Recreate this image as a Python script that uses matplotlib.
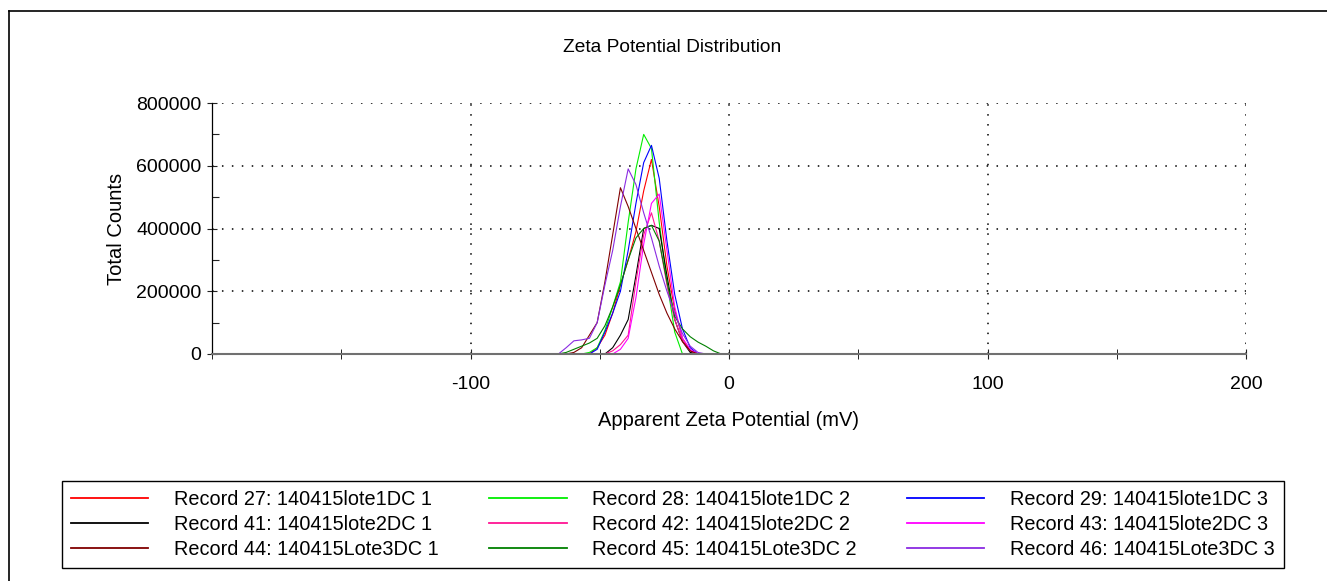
import matplotlib
matplotlib.use('Agg')
import matplotlib.pyplot as plt
from matplotlib.lines import Line2D
from matplotlib.ticker import FixedLocator

plt.rcParams['font.family'] = ['Liberation Sans', 'DejaVu Sans']
plt.rcParams['axes.unicode_minus'] = False

# zeta potential (mV) sample points, shared by all records
zeta = [-150, -66, -63, -60, -57, -54, -51, -48, -45, -42, -39, -36, -33,
        -30, -27, -24, -21, -18, -15, -12, -9, -6, -3, 150]

# total counts (thousands) for each record
rec27 = [0, 0, 0, 0, 0, 0, 20, 60, 130, 220, 300, 390, 520, 620, 470, 280, 140, 50, 10, 0, 0, 0, 0, 0]
rec28 = [0, 0, 0, 0, 0, 5, 20, 75, 150, 230, 420, 590, 700, 655, 420, 230, 70, 0, 0, 0, 0, 0, 0, 0]
rec29 = [0, 0, 0, 0, 0, 0, 15, 70, 130, 200, 330, 480, 610, 665, 560, 360, 190, 80, 20, 0, 0, 0, 0, 0]
rec41 = [0, 0, 0, 0, 0, 0, 0, 0, 20, 60, 110, 250, 400, 410, 400, 250, 110, 40, 5, 0, 0, 0, 0, 0]
rec42 = [0, 0, 0, 0, 0, 0, 0, 0, 10, 30, 60, 230, 380, 450, 360, 220, 110, 40, 10, 0, 0, 0, 0, 0]
rec43 = [0, 0, 0, 0, 0, 0, 0, 0, 0, 15, 50, 180, 350, 480, 510, 330, 150, 50, 15, 0, 0, 0, 0, 0]
rec44 = [0, 0, 0, 5, 20, 60, 100, 230, 380, 530, 470, 400, 330, 260, 190, 130, 80, 40, 10, 0, 0, 0, 0, 0]
rec45 = [0, 0, 5, 15, 25, 35, 50, 90, 150, 220, 300, 370, 400, 410, 360, 230, 120, 80, 55, 38, 25, 10, 0, 0]
rec46 = [0, 0, 20, 42, 45, 50, 100, 220, 330, 470, 590, 540, 450, 370, 280, 200, 130, 65, 25, 5, 0, 0, 0, 0]

series = [rec27, rec28, rec29, rec41, rec42, rec43, rec44, rec45, rec46]
labels = ['Record 27: 140415lote1DC 1', 'Record 28: 140415lote1DC 2', 'Record 29: 140415lote1DC 3',
          'Record 41: 140415lote2DC 1', 'Record 42: 140415lote2DC 2', 'Record 43: 140415lote2DC 3',
          'Record 44: 140415Lote3DC 1', 'Record 45: 140415Lote3DC 2', 'Record 46: 140415Lote3DC 3']
colors = ['#ff0000', '#00ee00', '#0000ff', '#000000', '#ff1493', '#ff00ff',
          '#800000', '#008000', '#8a2be2']

fig = plt.figure(figsize=(13.27, 5.81), dpi=100)
ax = fig.add_axes([212/1327, 1 - 354/581, 1034/1327, 251/581])

handles = []
for vals, lab, c in zip(series, labels, colors):
    ln, = ax.plot(zeta, [v * 1000 for v in vals], color=c, linewidth=0.8, label=lab)
    handles.append(ln)

ax.set_xlim(-200, 200)
ax.set_ylim(0, 800000)
ax.xaxis.set_major_locator(FixedLocator([-100, 0, 100, 200]))
ax.xaxis.set_minor_locator(FixedLocator([-200, -150, -50, 50, 150]))
ax.yaxis.set_major_locator(FixedLocator([0, 200000, 400000, 600000, 800000]))
ax.yaxis.set_minor_locator(FixedLocator([100000, 300000, 500000, 700000]))

ax.tick_params(axis='both', which='major', direction='inout', length=7, width=0.8,
               labelsize=14, colors='#222222', labelcolor='black')
ax.tick_params(axis='x', which='both', direction='inout', length=7, pad=12)
ax.tick_params(axis='y', which='minor', direction='in', length=5, width=0.8, colors='#222222')
ax.tick_params(axis='y', which='major', pad=4)

dots = (0, (1, 5.5))
for x in [-100, 0, 100, 200]:
    ax.axvline(x, color='black', linestyle=dots, linewidth=1.1, zorder=0.5)
for y in [200000, 400000, 600000, 800000]:
    ax.axhline(y, color='black', linestyle=dots, linewidth=1.1, zorder=0.5)

ax.spines['top'].set_visible(False)
ax.spines['right'].set_visible(False)
ax.spines['left'].set_color('black')
ax.spines['left'].set_linewidth(0.9)
ax.spines['bottom'].set_color('#707070')
ax.spines['bottom'].set_linewidth(1.5)

fig.text(672/1327, 1 - 47/581, 'Zeta Potential Distribution', fontsize=13.8,
         ha='center', va='center')
ax.set_xlabel('Apparent Zeta Potential (mV)', fontsize=14.5, labelpad=13)
ax.set_ylabel('Total Counts', fontsize=14.5, labelpad=7)

# legend: reorder so rows read 27/28/29, 41/42/43, 44/45/46
order = [0, 3, 6, 1, 4, 7, 2, 5, 8]
leg = fig.legend([handles[i] for i in order], [labels[i] for i in order],
                 loc='center', ncol=3, mode='expand',
                 bbox_to_anchor=(62/1327, 1 - 567/581, 1222/1327, 85/581),
                 borderaxespad=0, fontsize=14.3, handlelength=3.9, handletextpad=1.3,
                 labelspacing=0.3, fancybox=False, edgecolor='black', framealpha=1,
                 borderpad=0.45)
leg.get_frame().set_linewidth(1.0)
for h in leg.get_lines():
    h.set_linewidth(1.3)

# outer frame (left and top edges)
fig.add_artist(Line2D([9/1327, 9/1327], [0, 1 - 11/581], color='black', linewidth=1.2))
fig.add_artist(Line2D([9/1327, 1], [1 - 11/581, 1 - 11/581], color='black', linewidth=1.2))

fig.savefig('out.png', dpi=100)
